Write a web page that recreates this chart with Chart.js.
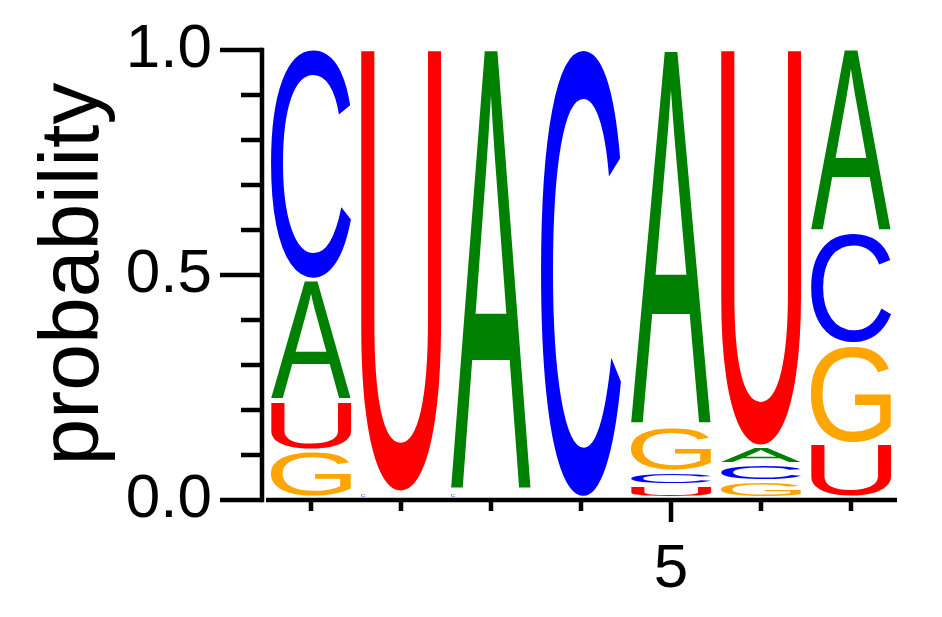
<!DOCTYPE html>
<html>
<head>
<meta charset="utf-8">
<script src="https://cdn.jsdelivr.net/npm/chart.js@4.4.1/dist/chart.umd.min.js"></script>
<style>
  html, body { margin: 0; padding: 0; background: #ffffff; }
  #wrap { width: 942px; height: 617px; }
</style>
</head>
<body>
<div id="wrap"><canvas id="logo"></canvas></div>
<script>
// ================================================================
//  DATA (probability of each base per position)
// ================================================================
const positions = ['1', '2', '3', '4', '5', '6', '7'];
const xTickLabels = ['', '', '', '', '5', '', ''];
const yTickValues = [0.0, 0.5, 1.0];
const yMinorTicks = [0.1, 0.2, 0.3, 0.4, 0.6, 0.7, 0.8, 0.9];
const yTitle = 'probability';

const bases = ['A', 'C', 'G', 'U'];
const probA = [0.27, 0.0, 0.988, 0.0, 0.84, 0.039, 0.41];
const probC = [0.515, 0.012, 0.012, 1.0, 0.03, 0.038, 0.25];
const probG = [0.105, 0.0, 0.0, 0.0, 0.10, 0.037, 0.22];
const probU = [0.11, 0.988, 0.0, 0.0, 0.028, 0.886, 0.12];
const baseColors = { A: '#008000', C: '#0000ff', G: '#ffa500', U: '#ff0000' };

const FONT = '"Liberation Sans", Arial, sans-serif';

// build stacking layers: smallest letter at the bottom of each column
const probs = { A: probA, C: probC, G: probG, U: probU };
const layers = [[], [], [], []];
positions.forEach((_, i) => {
  const col = bases.map(b => ({ letter: b, value: probs[b][i] }))
    .sort((a, b) => a.value - b.value);
  col.forEach((c, r) => layers[r].push(c));
});

// ================================================================
//  LETTER DRAWING
// ================================================================
function drawGlyph(ctx, ch, color, left, top, w, h) {
  ctx.save();
  ctx.font = '200px ' + FONT;
  ctx.textAlign = 'left';
  ctx.textBaseline = 'alphabetic';
  const m = ctx.measureText(ch);
  const gw = m.actualBoundingBoxLeft + m.actualBoundingBoxRight;
  const gh = m.actualBoundingBoxAscent + m.actualBoundingBoxDescent;
  ctx.translate(left, top);
  ctx.scale(w / gw, h / gh);
  ctx.fillStyle = color;
  ctx.fillText(ch, m.actualBoundingBoxLeft, m.actualBoundingBoxAscent);
  ctx.restore();
}

const letterPlugin = {
  id: 'letters',
  afterDatasetsDraw(chart) {
    const ctx = chart.ctx;
    chart.data.datasets.forEach((ds, di) => {
      const meta = chart.getDatasetMeta(di);
      meta.data.forEach((bar, i) => {
        const item = ds.letters[i];
        if (!item || item.value <= 0) return;
        const top = Math.min(bar.y, bar.base);
        const h = Math.abs(bar.base - bar.y) - 4;
        const left = bar.x - bar.width / 2;
        if (h < 3) {
          // very small letters come out as a tiny glyph at the column edge
          drawGlyph(ctx, item.letter, baseColors[item.letter], left, bar.base - 6, 4, 3);
          return;
        }
        drawGlyph(ctx, item.letter, baseColors[item.letter], left, top, bar.width, h);
      });
    });
  }
};

// ================================================================
//  AXES (lines, major / minor ticks, y title)
// ================================================================
const axesPlugin = {
  id: 'axes',
  afterDraw(chart) {
    const ctx = chart.ctx;
    const xs = chart.scales.x, ys = chart.scales.y;
    const area = chart.chartArea;
    const axisX = area.left - 4;
    const axisY = ys.getPixelForValue(0);
    ctx.save();
    ctx.strokeStyle = '#000000';
    ctx.lineWidth = 4.5;
    ctx.lineCap = 'butt';

    // y axis line
    ctx.beginPath();
    ctx.moveTo(axisX, ys.getPixelForValue(1) - 2.25);
    ctx.lineTo(axisX, axisY + 2.25);
    ctx.stroke();
    // x axis line
    ctx.beginPath();
    ctx.moveTo(area.left, axisY);
    ctx.lineTo(area.right + 1, axisY);
    ctx.stroke();

    // y ticks
    yTickValues.forEach(v => {
      const py = ys.getPixelForValue(v);
      ctx.beginPath();
      ctx.moveTo(axisX - 42, py);
      ctx.lineTo(axisX, py);
      ctx.stroke();
    });
    yMinorTicks.forEach(v => {
      const py = ys.getPixelForValue(v);
      ctx.beginPath();
      ctx.moveTo(axisX - 21, py);
      ctx.lineTo(axisX, py);
      ctx.stroke();
    });

    // x ticks (longer where there is a label)
    positions.forEach((p, i) => {
      const px = xs.getPixelForValue(i);
      ctx.beginPath();
      ctx.moveTo(px, axisY);
      ctx.lineTo(px, axisY + (xTickLabels[i] ? 22 : 11));
      ctx.stroke();
    });

    // y title
    ctx.fillStyle = '#000000';
    ctx.font = '84px ' + FONT;
    ctx.textAlign = 'center';
    ctx.textBaseline = 'alphabetic';
    ctx.translate(98, 274);
    ctx.rotate(-Math.PI / 2);
    ctx.fillText(yTitle, 0, 0);
    ctx.restore();
  }
};

// ================================================================
//  CHART
// ================================================================
new Chart(document.getElementById('logo').getContext('2d'), {
  type: 'bar',
  data: {
    labels: positions,
    datasets: layers.map((layer, r) => ({
      label: 'layer ' + r,
      data: layer.map(c => c.value),
      letters: layer,
      backgroundColor: 'rgba(0,0,0,0)',
      borderWidth: 0,
      barPercentage: 0.89,
      categoryPercentage: 1.0
    }))
  },
  options: {
    responsive: true, maintainAspectRatio: false,
    animation: false,
    layout: { padding: { top: 50, right: 46, left: 0, bottom: 0 } },
    plugins: { legend: { display: false }, tooltip: { enabled: false } },
    scales: {
      x: {
        stacked: true, offset: true,
        grid: { display: false, drawTicks: false },
        border: { display: false },
        ticks: {
          autoSkip: false, maxRotation: 0, padding: 33,
          color: '#000000', font: { family: FONT, size: 62 },
          callback: (v, i) => xTickLabels[i]
        },
        afterFit: s => { s.height = 117; }
      },
      y: {
        stacked: true, min: 0, max: 1,
        // tick marks themselves are drawn by the axes plugin; tickLength only offsets the labels
        grid: { display: false, drawTicks: true, tickLength: 54 },
        border: { display: false },
        ticks: {
          stepSize: 0.5, padding: 0,
          color: '#000000', font: { family: FONT, size: 62 },
          callback: v => v.toFixed(1)
        },
        afterFit: s => { s.width = 266; }
      }
    }
  },
  plugins: [letterPlugin, axesPlugin]
});
</script>
</body>
</html>
